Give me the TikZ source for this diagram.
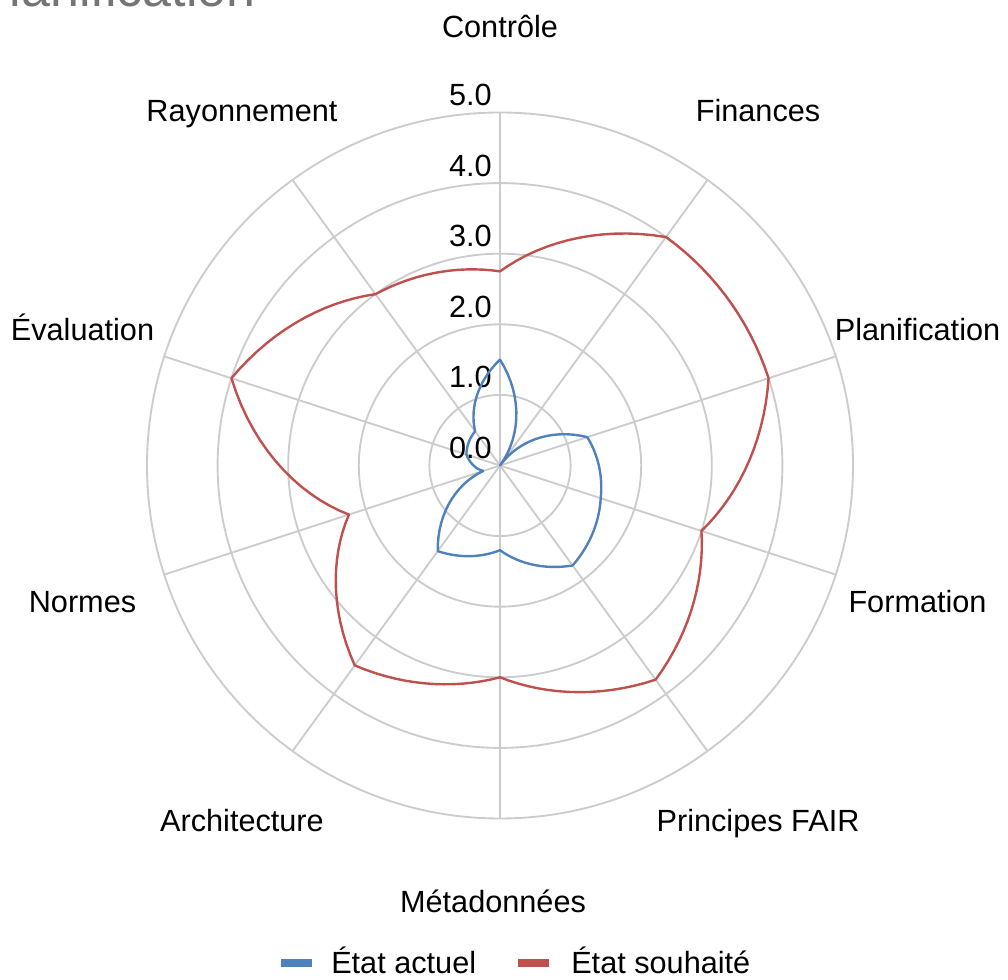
\documentclass[tikz,border=0pt]{standalone}
\usepackage{fontspec}
\setmainfont{Liberation Sans}
\definecolor{gridc}{HTML}{CCCCCC}
\definecolor{serA}{HTML}{4F81BD}
\definecolor{serB}{HTML}{C0504D}
\definecolor{titlec}{HTML}{757575}
\tikzset{
  gridline/.style={draw=gridc, line width=1.4pt},
  axislabel/.style={font=\fontsize{23}{27}\selectfont, inner sep=0pt, anchor=base},
  scalelabel/.style={font=\fontsize{23}{27}\selectfont, inner sep=0pt, anchor=base east},
  serieline/.style={line width=1.8pt, line join=round, line cap=round},
  legendbar/.style={inner sep=0pt, minimum width=23.25pt, minimum height=6.5pt, anchor=center},
  legendtext/.style={font=\fontsize{23}{27}\selectfont, inner sep=0pt, anchor=base west}
}
\begin{document}
\begin{tikzpicture}[x=0.75pt,y=-0.75pt]
\useasboundingbox (0,0) rectangle (1008,980);
\clip (0,0) rectangle (1008,980);
% title (cut by the top edge)
\node[font=\fontsize{39}{45}\selectfont, text=titlec, anchor=base west, inner sep=0pt] (title) at (-25,7) {Planification};
% rings
\foreach \i in {1,...,5}
  \draw[gridline] (500,465.5) circle[radius={\i*52.95pt}];
% spokes
\foreach \k in {0,...,9}
  \draw[gridline] (500,465.5) -- ({500+353*sin(36*\k)},{465.5-353*cos(36*\k)});
% scale labels
\foreach \i/\v in {0/0.0,1/1.0,2/2.0,3/3.0,4/4.0,5/5.0}
  \node[scalelabel] (sc\i) at (492,{465.5-70.6*\i-7}) {\v};
% axis labels
\foreach \k/\t in {0/Contrôle,1/Finances,2/Planification,3/Formation,4/Principes FAIR,6/Architecture,7/Normes,8/Évaluation,9/Rayonnement}
  \node[axislabel] (lab\k) at ({500+439*sin(36*\k)},{465.5-439*cos(36*\k)+11}) {\t};
\node[axislabel] (lab5) at (493,912) {Métadonnées};
% series: desired state
\draw[serieline, serB] (500,{465.5-2.75*70.6})
  \foreach \a/\b [count=\k from 0] in {2.75/4, 4/4, 4/3, 3/3.75, 3.75/3, 3/3.5, 3.5/2.25, 2.25/4, 4/3, 3/2.75}
  { -- plot[domain=0:1, samples=16, variable=\t] ({500+(\a+(\b-\a)*\t)*70.6*sin(36*(\k+\t))},{465.5-(\a+(\b-\a)*\t)*70.6*cos(36*(\k+\t))}) } -- cycle;
% series: current state
\draw[serieline, serA] (500,{465.5-1.5*70.6})
  \foreach \a/\b [count=\k from 0] in {1.5/0, 0/1.3, 1.3/1.5, 1.5/1.75, 1.75/1.2, 1.2/1.5, 1.5/0.25, 0.25/0.5, 0.5/0.6, 0.6/1.5}
  { -- plot[domain=0:1, samples=16, variable=\t] ({500+(\a+(\b-\a)*\t)*70.6*sin(36*(\k+\t))},{465.5-(\a+(\b-\a)*\t)*70.6*cos(36*(\k+\t))}) } -- cycle;
% legend
\node[legendbar, fill=serA] (legA) at (296.5,963) {};
\node[legendtext] (legAt) at (331,973) {État actuel};
\node[legendbar, fill=serB] (legB) at (533.5,963) {};
\node[legendtext] (legBt) at (571,973) {État souhaité};
\end{tikzpicture}
\end{document}
